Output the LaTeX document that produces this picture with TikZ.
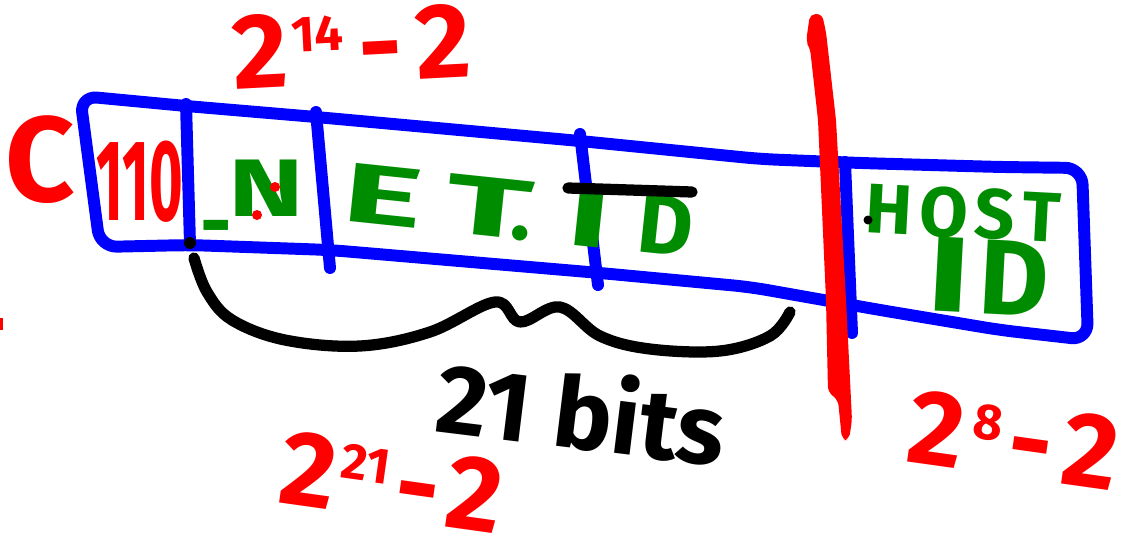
\documentclass[tikz,border=0pt]{standalone}
\usepackage{graphicx}
\usepackage{fontspec}
\setmainfont{Fira Sans}
\definecolor{hblue}{RGB}{0,0,255}
\definecolor{hred}{RGB}{255,0,0}
\definecolor{hgreen}{RGB}{0,140,0}
\newcommand\hfs[1]{\fontsize{#1}{#1}\selectfont}
\newcommand\lbox[2]{\makebox[#1pt][l]{#2}}
\newcommand\wide[2]{\scalebox{#1}[1]{#2}}
\begin{document}
\begin{tikzpicture}[x=0.025cm,y=-0.025cm,line cap=round,line join=round,
  bluestroke/.style={draw=hblue,line width=8.5pt},
  blackstroke/.style={draw=black,line width=8pt},
  redtext/.style={text=hred,inner sep=0pt,font=\bfseries},
  greentext/.style={text=hgreen,inner sep=0pt,font=\bfseries},
  blacktext/.style={text=black,inner sep=0pt,font=\bfseries}]
\useasboundingbox (0,0) rectangle (1128,558);
% outer box
\draw[bluestroke,rounded corners=12pt] (80,96) -- (186,106) -- (316,117) -- (580,141) -- (760,159) -- (860,163) -- (1000,167) -- (1082,168) -- (1088,340) -- (1000,330) -- (880,310) -- (750,287) -- (600,273) -- (330,250) -- (190,245) -- (100,247) -- cycle;
% dividers
\coordinate (d1t) at (186,104); \coordinate (d1b) at (190,244);
\coordinate (d2t) at (316,112); \coordinate (d2b) at (330,268);
\coordinate (d3t) at (580,134); \coordinate (d3b) at (598,285);
\coordinate (d4t) at (845,162); \coordinate (d4b) at (852,333);
\draw[bluestroke] (d1t) -- (d1b);
\draw[bluestroke] (d2t) -- (d2b);
\draw[bluestroke] (d3t) -- (d3b);
\draw[bluestroke] (d4t) -- (d4b);
% red thick separator
\fill[hred,rounded corners=4pt] (810,14) -- (822,14) -- (826,32) -- (836,120) -- (846,300) -- (852,420) -- (849,440) -- (842,440) -- (838,400) -- (828,392) -- (826,300) -- (818,120) -- (810,48) -- (806,42) -- cycle;
% texts
\node[redtext] (c) at (40,160) {\hfs{86}C};
\node[redtext,xscale=0.5] (f110) at (140,182) {\hfs{82}110};
\node[greentext] (n) at (254,195) {\hfs{58}\wide{0.6}{\_}\wide{1.4}{N}};
\fill[hred] (275,187) circle (5);
\fill[hred] (257,215) circle (5);
\node[greentext,rotate=-6] (etid) at (518,211) {\hfs{60}\lbox{74}{\wide{1.8}{E}}\lbox{47}{\wide{1.9}{T}}\lbox{40}{.}\lbox{50}{\wide{1.7}{I}}D};
\coordinate (olA) at (568,188); \coordinate (olB) at (692,192);
\draw[blackstroke] (olA) -- (olB);
\node[greentext,rotate=-3] (host) at (963,213) {\hfs{50}H\kern5pt O\kern5pt S\kern5pt T};
\node[greentext,rotate=-3] (id) at (988,277) {\hfs{76}\wide{1.4}{I}\kern6pt D};
\fill[black] (868,220) circle (4.5);
% brace
\fill[black] (190,243) circle (6);
\draw[blackstroke] plot[smooth,tension=0.6] coordinates {(194,258) (207,292) (232,320) (285,340) (360,346) (430,332) (495,302) (520,322) (560,307) (600,336) (650,349) (720,351) (770,336) (790,312)};
\node[blacktext,rotate=-7] (bits) at (582,410) {\hfs{70}21 bits};
% powers
\node[redtext,rotate=3] (p14) at (352,46) {\hfs{76}2\kern3pt\raisebox{24pt}{\hfs{36}14}\kern10pt-\kern10pt 2};
\node[redtext,rotate=-8] (p21) at (392,482) {\hfs{76}2\kern3pt\raisebox{24pt}{\hfs{36}21}\kern6pt-\kern6pt 2};
\node[redtext,rotate=-8] (p8) at (1014,440) {\hfs{76}2\kern6pt\raisebox{24pt}{\hfs{36}8}\kern6pt-\kern8pt 2};
\fill[hred] (0,318) rectangle (3,330);
\end{tikzpicture}
\end{document}
